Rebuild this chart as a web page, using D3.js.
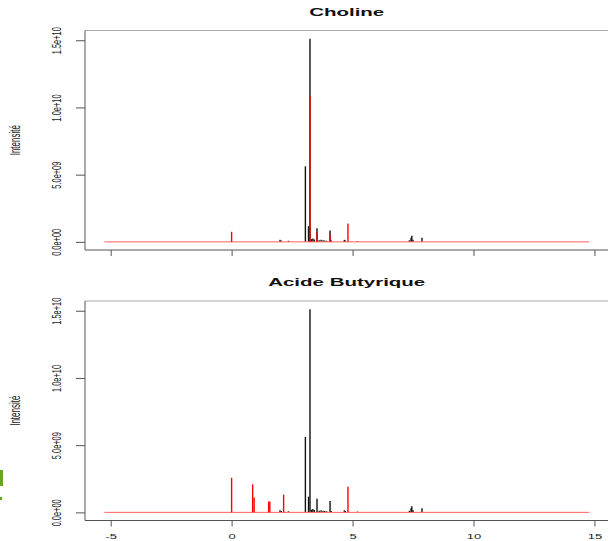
<!DOCTYPE html>
<html>
<head>
<meta charset="utf-8">
<script src="https://cdn.jsdelivr.net/npm/d3@7"></script>
<style>
  body { margin: 0; background: #fff; }
  svg { display: block; font-family: 'Liberation Sans', Arial, sans-serif; }
</style>
</head>
<body>
<svg width="608" height="541"></svg>
<script>
const width = 608
const height = 541
const squash = 0.57 // the picture is squeezed vertically

// reference spectrum (black), the same in both panels
const blackPpm = [2.0, 2.05, 2.35, 3.05, 3.18, 3.24, 3.3, 3.36, 3.42, 3.53, 3.62, 3.7, 3.78, 3.85, 3.93, 4.07, 4.12, 4.66, 4.7, 5.2, 7.35, 7.42, 7.45, 7.5, 7.87]
const blackInt = [0.15e9, 0.1e9, 0.08e9, 5.62e9, 1.17e9, 1.512e10, 0.2e9, 0.25e9, 0.18e9, 1.02e9, 0.12e9, 0.15e9, 0.12e9, 0.1e9, 0.08e9, 0.84e9, 0.1e9, 0.15e9, 0.1e9, 0.06e9, 0.12e9, 0.3e9, 0.45e9, 0.15e9, 0.3e9]

// compound spectra (red)
const cholinePpm = [0, 3.24, 3.53, 4.07, 4.81]
const cholineInt = [0.75e9, 1.084e10, 0.74e9, 0.54e9, 1.37e9]
const butyrPpm = [0, 0.87, 0.93, 1.53, 1.58, 2.15, 4.81]
const butyrInt = [2.57e9, 2.09e9, 1.1e9, 0.8e9, 0.8e9, 1.32e9, 1.9e9]

const redRange = [-5.26, 14.78]
const yMax = 1.512e10

const xTicks = [-5, 0, 5, 10, 15]
const yTicks = [0, 5e9, 1e10, 1.5e10]
const yTickLabels = ['0.0e+00', '5.0e+09', '1.0e+10', '1.5e+10']

const titles = ['Choline', 'Acide Butyrique']
const yLabel = 'Intensité'

const svg = d3.select('svg')

// x scale with R style 4% padding
const xPad = (redRange[1] - redRange[0]) * 0.04
const xScale = d3.scaleLinear()
  .domain([redRange[0] - xPad, redRange[1] + xPad])
  .range([85, 608.5])

const panels = [
  { top: 30.5, bottom: 250, title: titles[0], ppm: cholinePpm, val: cholineInt, labels: false, titleY: 15.7 },
  { top: 301, bottom: 520.5, title: titles[1], ppm: butyrPpm, val: butyrInt, labels: true, titleY: 285.5 }
]

panels.forEach(p => {
  const yScale = d3.scaleLinear()
    .domain([-0.04 * yMax, 1.04 * yMax])
    .range([p.bottom, p.top])

  const g = svg.append('g')

  // box (right side is cut off by the picture)
  g.append('line')
    .attr('x1', 85).attr('x2', width).attr('y1', p.top).attr('y2', p.top)
    .attr('stroke', '#aaa')
  g.append('line')
    .attr('x1', 85).attr('x2', 85).attr('y1', p.top).attr('y2', p.bottom)
    .attr('stroke', '#555')
  g.append('line')
    .attr('x1', 85).attr('x2', width).attr('y1', p.bottom).attr('y2', p.bottom)
    .attr('stroke', '#555')

  // axes
  const xAxis = d3.axisBottom(xScale)
    .tickValues(xTicks)
    .tickSize(6)
    .tickFormat(d => p.labels ? d : '')
  const xg = g.append('g')
    .attr('transform', `translate(0,${p.bottom})`)
    .call(xAxis)
  xg.select('.domain').remove()
  xg.selectAll('line').attr('stroke', '#555')
  xg.selectAll('text')
    .attr('y', null).attr('dy', null)
    .attr('transform', `translate(0,18.5) scale(1,${squash})`)
    .attr('font-size', 13)
    .attr('font-family', 'Liberation Sans, Arial, sans-serif')
    .attr('fill', '#222')

  const yAxis = d3.axisLeft(yScale)
    .tickValues(yTicks)
    .tickSize(9)
    .tickFormat((d, i) => yTickLabels[i])
  const yg = g.append('g')
    .attr('transform', 'translate(85,0)')
    .call(yAxis)
  yg.select('.domain').remove()
  yg.selectAll('line').attr('stroke', '#555')
  yg.selectAll('text')
    .attr('x', null).attr('dy', null)
    .attr('text-anchor', 'middle')
    .attr('transform', `translate(-24,0) scale(1,${squash}) rotate(-90)`)
    .attr('font-size', 13)
    .attr('font-family', 'Liberation Sans, Arial, sans-serif')
    .attr('fill', '#222')

  // black spectrum
  g.selectAll('line.black')
    .data(blackPpm)
    .enter().append('line')
    .attr('class', 'black')
    .attr('x1', d => xScale(d)).attr('x2', d => xScale(d))
    .attr('y1', yScale(0))
    .attr('y2', (d, i) => yScale(blackInt[i]))
    .attr('stroke', '#111')
    .attr('stroke-width', 1.4)

  // red baseline and peaks on top
  g.append('line')
    .attr('x1', xScale(redRange[0])).attr('x2', xScale(redRange[1]))
    .attr('y1', yScale(0)).attr('y2', yScale(0))
    .attr('stroke', '#ff6262')
    .attr('stroke-width', 1)
  g.selectAll('line.red')
    .data(p.ppm)
    .enter().append('line')
    .attr('class', 'red')
    .attr('x1', d => xScale(d)).attr('x2', d => xScale(d))
    .attr('y1', yScale(0))
    .attr('y2', (d, i) => yScale(p.val[i]))
    .attr('stroke', '#f00')
    .attr('stroke-width', 1.4)

  // title
  g.append('text')
    .attr('transform', `translate(346.7,${p.titleY}) scale(1,0.55)`)
    .attr('text-anchor', 'middle')
    .attr('font-size', 20.5)
    .attr('font-weight', 'bold')
    .attr('fill', '#111')
    .text(p.title)

  // y label
  g.append('text')
    .attr('transform', `translate(20,${(p.top + p.bottom) / 2}) scale(1,${squash}) rotate(-90)`)
    .attr('text-anchor', 'middle')
    .attr('font-size', 14)
    .attr('fill', '#222')
    .text(yLabel)
})

// green scrap at the left edge of the picture
svg.append('rect')
  .attr('x', 0).attr('y', 470).attr('width', 3).attr('height', 16)
  .attr('fill', '#6aa526')
svg.append('rect')
  .attr('x', 0).attr('y', 497).attr('width', 2).attr('height', 3)
  .attr('fill', '#6aa526')
</script>
</body>
</html>
